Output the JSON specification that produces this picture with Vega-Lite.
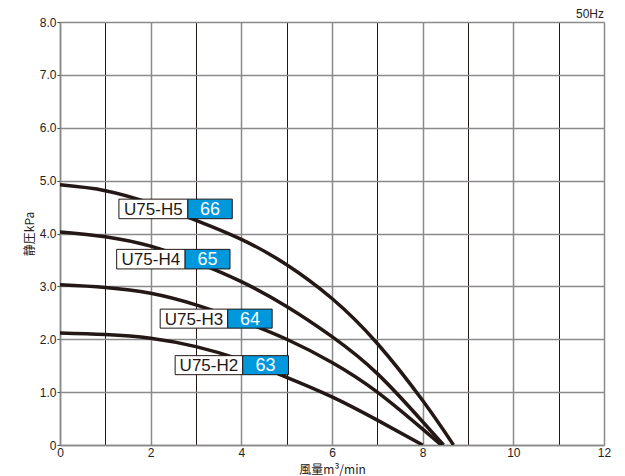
{
  "$schema": "https://vega.github.io/schema/vega-lite/v6.json",
  "autosize": "none",
  "width": 544,
  "height": 423,
  "padding": {"left": 60, "top": 22, "right": 21, "bottom": 31},
  "background": "white",
  "title": {"text": "50Hz", "anchor": "end", "frame": "group", "fontSize": 12, "fontWeight": "normal", "font": "Liberation Sans", "color": "#222", "offset": -5},
  "config": {
    "view": {"stroke": null},
    "axis": {"labelFont": "Liberation Sans", "titleFont": "Noto Sans CJK JP", "labelFontSize": 12, "titleFontSize": 12, "labelColor": "#222", "titleColor": "#222", "titleFontWeight": "normal", "domainColor": "#888", "domainWidth": 1.5, "tickColor": "#444", "tickSize": 3}
  },
  "datasets": {
    "curves": [
      {"model": "H5", "q": 0, "p": 4.92}, {"model": "H5", "q": 1, "p": 4.81}, {"model": "H5", "q": 2, "p": 4.57}, {"model": "H5", "q": 3, "p": 4.25}, {"model": "H5", "q": 4, "p": 3.89}, {"model": "H5", "q": 5, "p": 3.41}, {"model": "H5", "q": 6, "p": 2.77}, {"model": "H5", "q": 7, "p": 1.92}, {"model": "H5", "q": 8, "p": 0.84}, {"model": "H5", "q": 8.68, "p": 0},
      {"model": "H4", "q": 0, "p": 4.03}, {"model": "H4", "q": 1, "p": 3.94}, {"model": "H4", "q": 2, "p": 3.76}, {"model": "H4", "q": 3, "p": 3.46}, {"model": "H4", "q": 4, "p": 3.09}, {"model": "H4", "q": 5, "p": 2.62}, {"model": "H4", "q": 6, "p": 2.05}, {"model": "H4", "q": 7, "p": 1.35}, {"model": "H4", "q": 8, "p": 0.44}, {"model": "H4", "q": 8.46, "p": 0},
      {"model": "H3", "q": 0, "p": 3.03}, {"model": "H3", "q": 1, "p": 2.98}, {"model": "H3", "q": 2, "p": 2.87}, {"model": "H3", "q": 3, "p": 2.65}, {"model": "H3", "q": 4, "p": 2.35}, {"model": "H3", "q": 5, "p": 2.0}, {"model": "H3", "q": 6, "p": 1.56}, {"model": "H3", "q": 7, "p": 1.0}, {"model": "H3", "q": 8, "p": 0.3}, {"model": "H3", "q": 8.41, "p": 0},
      {"model": "H2", "q": 0, "p": 2.12}, {"model": "H2", "q": 1, "p": 2.09}, {"model": "H2", "q": 2, "p": 2.02}, {"model": "H2", "q": 3, "p": 1.86}, {"model": "H2", "q": 4, "p": 1.61}, {"model": "H2", "q": 5, "p": 1.28}, {"model": "H2", "q": 6, "p": 0.91}, {"model": "H2", "q": 7, "p": 0.47}, {"model": "H2", "q": 8, "p": 0}
    ],
    "labels": [
      {"name": "U75-H5", "db": "66", "x1": 1.3, "xm": 2.82, "x2": 3.8, "y1": 4.65, "y2": 4.28},
      {"name": "U75-H4", "db": "65", "x1": 1.25, "xm": 2.76, "x2": 3.75, "y1": 3.7, "y2": 3.33},
      {"name": "U75-H3", "db": "64", "x1": 2.21, "xm": 3.7, "x2": 4.68, "y1": 2.57, "y2": 2.21},
      {"name": "U75-H2", "db": "63", "x1": 2.54, "xm": 4.03, "x2": 5.04, "y1": 1.69, "y2": 1.33}
    ]
  },
  "layer": [
    {
      "data": {"name": "curves"},
      "mark": {"type": "line", "interpolate": "natural", "stroke": "#231815", "strokeWidth": 3.5, "clip": true},
      "encoding": {
        "x": {"field": "q", "type": "quantitative", "scale": {"domain": [0, 12], "nice": false},
          "axis": {"title": "風量m³/min", "values": [0,1,2,3,4,5,6,7,8,9,10,11,12], "labelExpr": "datum.value % 2 == 0 ? datum.label : ''", "grid": true, "gridColor": {"condition": {"test": "datum.value % 2 == 1", "value": "#231815"}, "value": "#8a8a8a"}, "gridWidth": {"condition": {"test": "datum.value % 2 == 1", "value": 1}, "value": 1.5}, "ticks": false, "labelPadding": 2, "titlePadding": 6, "labelFlush": false}},
        "y": {"field": "p", "type": "quantitative", "scale": {"domain": [0, 8], "nice": false},
          "axis": {"title": "静圧kPa", "values": [0,1,2,3,4,5,6,7,8], "labelExpr": "datum.value == 0 ? '0' : format(datum.value, '.1f')", "grid": true, "gridColor": "#8a8a8a", "gridWidth": 1.5, "tickColor": "#444", "labelPadding": 1, "titlePadding": 3, "labelFlush": false}},
        "detail": {"field": "model", "type": "nominal"}
      }
    },
    {
      "data": {"name": "labels"},
      "mark": {"type": "rect", "fill": "white", "stroke": "#231815", "strokeWidth": 1},
      "encoding": {
        "x": {"field": "x1", "type": "quantitative"}, "x2": {"field": "xm"},
        "y": {"field": "y1", "type": "quantitative"}, "y2": {"field": "y2"}
      }
    },
    {
      "data": {"name": "labels"},
      "mark": {"type": "rect", "fill": "#0098dc", "stroke": "#231815", "strokeWidth": 1},
      "encoding": {
        "x": {"field": "xm", "type": "quantitative"}, "x2": {"field": "x2"},
        "y": {"field": "y1", "type": "quantitative"}, "y2": {"field": "y2"}
      }
    },
    {
      "data": {"name": "labels"},
      "transform": [{"calculate": "(datum.x1 + datum.xm) / 2", "as": "cx"}, {"calculate": "(datum.y1 + datum.y2) / 2", "as": "cy"}],
      "mark": {"type": "text", "font": "Liberation Sans", "fontSize": 17, "color": "#231815", "align": "center", "baseline": "middle", "dy": 1},
      "encoding": {
        "x": {"field": "cx", "type": "quantitative"},
        "y": {"field": "cy", "type": "quantitative"},
        "text": {"field": "name"}
      }
    },
    {
      "data": {"name": "labels"},
      "transform": [{"calculate": "(datum.xm + datum.x2) / 2", "as": "cx"}, {"calculate": "(datum.y1 + datum.y2) / 2", "as": "cy"}],
      "mark": {"type": "text", "font": "Liberation Sans", "fontSize": 18, "color": "white", "align": "center", "baseline": "middle", "dy": 1},
      "encoding": {
        "x": {"field": "cx", "type": "quantitative"},
        "y": {"field": "cy", "type": "quantitative"},
        "text": {"field": "db"}
      }
    }
  ]
}
